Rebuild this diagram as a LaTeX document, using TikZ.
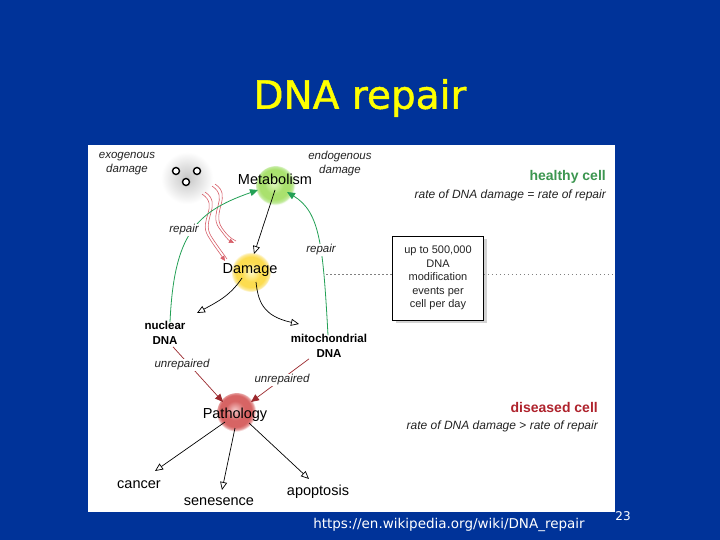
\documentclass[tikz,border=0pt]{standalone}
\usepackage{fontspec}
\setmainfont{Liberation Sans}
\newfontfamily\titlefont[FakeBold=1.2]{DejaVu Sans}
\newfontfamily\footfont{DejaVu Sans}
\usetikzlibrary{arrows.meta,shadows,calc}
\definecolor{bgblue}{RGB}{0,51,153}
\definecolor{titleyellow}{RGB}{255,255,0}
\definecolor{txtgray}{RGB}{35,35,35}
\definecolor{healthygreen}{RGB}{60,150,80}
\definecolor{diseasedred}{RGB}{175,35,45}
\definecolor{arrgreen}{RGB}{35,160,85}
\definecolor{arrred}{RGB}{155,40,45}
\definecolor{wavyred}{RGB}{215,95,105}
\definecolor{metA}{RGB}{225,248,190}
\definecolor{metB}{RGB}{170,225,110}
\definecolor{metC}{RGB}{195,235,160}
\definecolor{dmgA}{RGB}{255,250,200}
\definecolor{dmgB}{RGB}{252,220,80}
\definecolor{dmgC}{RGB}{252,235,160}
\definecolor{patA}{RGB}{245,200,200}
\definecolor{patB}{RGB}{215,100,100}
\definecolor{patC}{RGB}{230,160,160}
\pgfdeclareradialshading{metglow}{\pgfpoint{-3bp}{3bp}}{color(0bp)=(metA); color(12bp)=(metB); color(19bp)=(metB); color(23bp)=(metC); color(25bp)=(white); color(50bp)=(white)}
\pgfdeclareradialshading{dmgglow}{\pgfpoint{0bp}{0bp}}{color(0bp)=(dmgA); color(12bp)=(dmgB); color(19bp)=(dmgB); color(23bp)=(dmgC); color(25bp)=(white); color(50bp)=(white)}
\pgfdeclareradialshading{patglow}{\pgfpoint{-3bp}{4bp}}{color(0bp)=(patA); color(12bp)=(patB); color(20bp)=(patB); color(23bp)=(patC); color(25bp)=(white); color(50bp)=(white)}
\pgfdeclareradialshading{dotshadow}{\pgfpoint{0bp}{0bp}}{color(0bp)=(black!22); color(14bp)=(black!10); color(25bp)=(white); color(50bp)=(white)}
\begin{document}
\begin{tikzpicture}[x=1pt,y=-1pt,
  itl/.style={font=\fontsize{11.5}{14}\selectfont\itshape, text=txtgray, inner sep=1pt, align=center},
  bld/.style={font=\fontsize{11.5}{15}\selectfont\bfseries, text=black, inner sep=1pt, align=center},
  big/.style={font=\fontsize{14.5}{17}\selectfont, text=black, inner sep=1pt},
  ball/.style={circle, inner sep=0pt, minimum size=40pt},
  openarr/.style={-{Triangle[open,length=8pt,width=7pt]}, black, line width=0.7pt},
  greenarr/.style={-{Triangle[length=8pt,width=7pt]}, arrgreen, line width=0.8pt},
  redarr/.style={-{Triangle[length=8pt,width=7pt]}, arrred, line width=0.7pt},
  wavy/.style={-{Triangle[length=5pt,width=4.5pt]}, wavyred, line width=0.6pt},
  dotline/.style={gray, line width=0.6pt, dash pattern=on 1.5pt off 2.5pt},
  smalldot/.style={circle, draw=black, line width=1.4pt, fill=white, minimum size=7pt, inner sep=0pt}
]
\useasboundingbox (0,0) rectangle (720,540);
\fill[bgblue] (0,0) rectangle (720,540);
\fill[white] (88,145) rectangle (615,512);

% title and footer
\node[font=\titlefont\fontsize{39}{44}\selectfont, text=titleyellow] (title) at (360,98) {DNA repair};
\node[font=\footfont\fontsize{13.5}{16}\selectfont, text=white] (url) at (449,525) {https://en.wikipedia.org/wiki/DNA\_repair};
\node[font=\footfont\fontsize{12}{14}\selectfont, text=white] (pnum) at (623,516) {23};

% balls
\node[ball, shading=metglow] (met) at (276,186) {};
\node[ball, shading=dmgglow] (dmg) at (251,272) {};
\node[ball, shading=patglow] (path) at (237,413) {};

% exogenous damage dots
\shade[shading=dotshadow] (187,178) circle (26);
\node[smalldot] (d1) at (176,171) {};
\node[smalldot] (d2) at (197,171) {};
\node[smalldot] (d3) at (186,182) {};

% dotted line and box
\node[draw=black, line width=0.8pt, fill=white, minimum width=91pt, minimum height=84pt,
      drop shadow={shadow xshift=3pt, shadow yshift=-3pt, opacity=0.35},
      font=\fontsize{11}{13.6}\selectfont, align=center, text=txtgray] (box) at (438,278)
      {up to 500,000\\DNA\\modification\\events per\\cell per day};
\coordinate (dotL) at (326,274);
\coordinate (dotR) at (613,274);
\draw[dotline] (dotL) -- (box.west |- dotL);
\draw[dotline] (box.east |- dotR) -- (dotR);

% text labels
\node[itl] (exo) at (127,164) {exogenous\\damage};
\node[itl] (endo) at (340,164) {endogenous\\damage};
\node[big] (metl) at (275,179) {Metabolism};
\node[big] (dmgl) at (250,270) {Damage};
\node[big] (pathl) at (235,415) {Pathology};
\node[font=\fontsize{14}{16}\selectfont\bfseries, text=healthygreen, anchor=east, inner sep=0pt] (healthy) at (606,177) {healthy cell};
\node[itl, font=\fontsize{12}{14}\selectfont\itshape, anchor=east, inner sep=0pt] (hrate) at (606,195) {rate of DNA damage = rate of repair};
\node[font=\fontsize{14}{16}\selectfont\bfseries, text=diseasedred, anchor=east, inner sep=0pt] (diseased) at (598,407) {diseased cell};
\node[itl, font=\fontsize{12}{14}\selectfont\itshape, anchor=east, inner sep=0pt] (drate) at (598,426) {rate of DNA damage {\upshape>} rate of repair};
\node[bld] (nuc) at (165,333) {nuclear\\DNA};
\node[bld] (mito) at (329,346) {mitochondrial\\DNA};
\node[big] (cancer) at (139,485) {cancer};
\node[big] (sen) at (219,502) {senesence};
\node[big] (apop) at (318,492) {apoptosis};

% wavy red arrows (exogenous damage)
\coordinate (w1) at (202,194);
\coordinate (w2) at (212,186);
\draw[wavy] (w1) .. controls (220,206) and (198,220) .. (208,236) .. controls (214,246) and (219,252) .. ($(dmg)+(-26,-11)$);
\draw[wavyred, line width=0.6pt] ($(w1)+(3,-2)$) .. controls (223,204) and (201,220) .. (211,236) .. controls (216,244) and (220,249) .. ($(dmg)+(-24,-13)$);
\draw[wavy] (w2) .. controls (230,198) and (208,212) .. (219,228) .. controls (225,236) and (228,240) .. ($(dmg)+(-17,-29)$);
\draw[wavyred, line width=0.6pt] ($(w2)+(3,-2)$) .. controls (233,196) and (211,212) .. (222,228) .. controls (227,235) and (230,238) .. ($(dmg)+(-15,-31)$);

% repair (green) arrows
\draw[greenarr] ($(nuc.north)+(5,2)$) .. controls (174,235) and (195,212) .. ($(met)+(-18,4)$);
\draw[greenarr] ($(mito.north)+(-1,2)$) .. controls (323,245) and (320,212) .. ($(met)+(11,6)$);
\node[itl, fill=white, inner sep=0.5pt] (rep1) at (184,230) {repair};
\node[itl, fill=white, inner sep=0.5pt] (rep2) at (321,250) {repair};

% damage pathway arrows
\draw[openarr] ($(met)+(-1,4)$) -- ($(dmg)+(3,-18)$);
\draw[openarr] ($(dmg)+(-9,6)$) .. controls (230,296) and (217,302) .. ($(nuc)+(32,-20)$);
\draw[openarr] ($(dmg)+(5,10)$) .. controls (258,300) and (262,316) .. ($(mito)+(-30,-22)$);

% unrepaired (red) arrows
\draw[redarr] ($(nuc.south)+(8,1)$) -- ($(path)+(-14,-11)$);
\draw[redarr] ($(mito.south)+(-20,0)$) -- ($(path)+(14,-11)$);
\node[itl, fill=white, inner sep=0.5pt] (unr1) at (182,365) {unrepaired};
\node[itl, fill=white, inner sep=0.5pt] (unr2) at (282,380) {unrepaired};

% outcomes
\draw[openarr] ($(path)+(-12,9)$) -- ($(cancer)+(16,-14)$);
\draw[openarr] ($(path)+(-2,15)$) -- ($(sen)+(3,-12)$);
\draw[openarr] ($(path)+(12,10)$) -- ($(apop)+(-9,-13)$);
\end{tikzpicture}
\end{document}
